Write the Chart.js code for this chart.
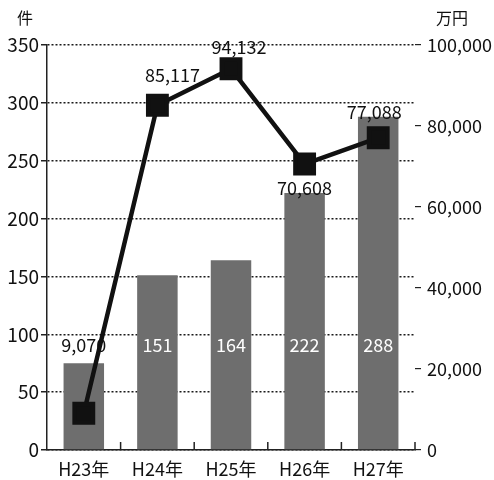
<!DOCTYPE html>
<html>
<head>
<meta charset="utf-8">
<script src="https://cdn.jsdelivr.net/npm/chart.js@4/dist/chart.umd.min.js"></script>
<style>
  html, body { margin: 0; padding: 0; background: #fff; }
  #wrap { width: 494px; height: 480px; position: relative; }
</style>
</head>
<body>
<div id="wrap"><canvas id="chart"></canvas></div>
<script>
const years = ['H23年', 'H24年', 'H25年', 'H26年', 'H27年'];
const counts = [75, 151, 164, 222, 288];          // 件
const amounts = [9070, 85117, 94132, 70608, 77088]; // 万円

const FONT = '"Noto Sans CJK JP", "Open Sans", sans-serif';
const fmt = v => v.toLocaleString('en-US');

// where each amount label sits relative to its point
const amountLabelPos = [
    { atBarRow: true },
    { dx: 15, dy: -30 },
    { dx: 8, dy: -22 },
    { dx: 0, dy: 24 },
    { dx: -4, dy: -26 }
];

const labelPlugin = {
    id: 'labels',
    afterDatasetsDraw(chart) {
        const ctx = chart.ctx;
        const y = chart.scales.y;
        const rowY = y.getPixelForValue(91);
        ctx.save();
        ctx.font = '18px ' + FONT;
        ctx.textAlign = 'center';
        ctx.textBaseline = 'middle';

        // counts inside bars
        chart.getDatasetMeta(1).data.forEach((bar, i) => {
            if (counts[i] < 100) return;
            ctx.fillStyle = '#fff';
            ctx.fillText(counts[i], bar.x, rowY);
        });

        // amounts next to the line points
        chart.getDatasetMeta(0).data.forEach((pt, i) => {
            const p = amountLabelPos[i];
            ctx.fillStyle = '#111';
            if (p.atBarRow) ctx.fillText(fmt(amounts[i]), pt.x, rowY);
            else ctx.fillText(fmt(amounts[i]), pt.x + p.dx, pt.y + p.dy);
        });

        // small upward ticks between categories on the x axis
        const xs = chart.scales.x;
        const bottom = chart.chartArea.bottom;
        const step = xs.getPixelForValue(1) - xs.getPixelForValue(0);
        ctx.strokeStyle = '#222';
        ctx.lineWidth = 1.5;
        for (let i = 0; i < years.length; i++) {
            const px = xs.getPixelForValue(i) + step / 2;
            if (px > chart.chartArea.right + 1) continue;
            ctx.beginPath();
            ctx.moveTo(px, bottom);
            ctx.lineTo(px, bottom - 8);
            ctx.stroke();
        }

        // unit titles
        ctx.fillStyle = '#111';
        ctx.font = '16px ' + FONT;
        ctx.fillText('件', 25, 18);
        ctx.fillText('万円', 452, 18);
        ctx.restore();
    }
};

new Chart(document.getElementById('chart'), {
    type: 'bar',
    data: {
        labels: years,
        datasets: [
            {
                type: 'line',
                label: '金額',
                data: amounts,
                yAxisID: 'y1',
                borderColor: '#111',
                backgroundColor: '#111',
                borderWidth: 4.5,
                pointStyle: 'rect',
                pointRadius: 13,
                pointHoverRadius: 13,
                tension: 0,
                order: 0
            },
            {
                label: '件数',
                data: counts,
                yAxisID: 'y',
                backgroundColor: '#6e6e6e',
                categoryPercentage: 1,
                barPercentage: 0.55,
                order: 1
            }
        ]
    },
    options: {
        responsive: true,
        maintainAspectRatio: false,
        animation: false,
        layout: { padding: { top: 45, left: 0, right: 0, bottom: 0 } },
        plugins: { legend: { display: false }, tooltip: { enabled: false } },
        scales: {
            x: {
                grid: { display: false },
                border: { display: true, color: '#222', width: 1.5 },
                ticks: { color: '#111', font: { family: FONT, size: 18 }, padding: 0 },
                afterFit: s => { s.height = 30; }
            },
            y: {
                min: 0, max: 350,
                ticks: { stepSize: 50, color: '#111', font: { family: FONT, size: 19 }, padding: 2 },
                grid: { color: '#1a1a1a', lineWidth: 1.5, tickLength: 6, tickColor: '#222', tickBorderDash: [] },
                border: { display: true, color: '#222', width: 1.5, dash: [2, 2] },
                afterFit: s => { s.width = 47; }
            },
            y1: {
                position: 'right',
                min: 0, max: 100000,
                ticks: { stepSize: 20000, color: '#111', font: { family: FONT, size: 18 }, padding: 6, callback: v => fmt(v) },
                grid: { drawOnChartArea: false, tickLength: 6, tickColor: '#222', lineWidth: 1.2 },
                border: { display: false },
                afterFit: s => { s.width = 79; }
            }
        }
    },
    plugins: [labelPlugin]
});
</script>
</body>
</html>
